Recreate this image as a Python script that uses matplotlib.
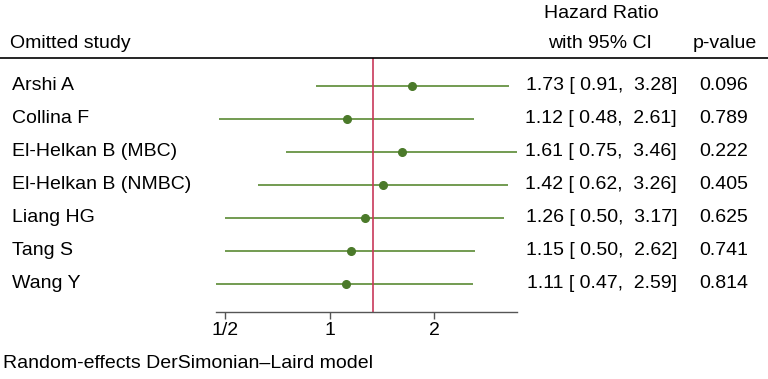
import numpy as np
import matplotlib.pyplot as plt
from matplotlib.lines import Line2D
from matplotlib.ticker import FixedLocator, NullLocator

plt.rcParams['font.family'] = ['Liberation Sans', 'DejaVu Sans']

# data
studies = ['Arshi A', 'Collina F', 'El-Helkan B (MBC)', 'El-Helkan B (NMBC)',
           'Liang HG', 'Tang S', 'Wang Y']
hr = [1.73, 1.12, 1.61, 1.42, 1.26, 1.15, 1.11]
lo = [0.91, 0.48, 0.75, 0.62, 0.50, 0.50, 0.47]
hi = [3.28, 2.61, 3.46, 3.26, 3.17, 2.62, 2.59]
pvals = ['0.096', '0.789', '0.222', '0.405', '0.625', '0.741', '0.814']
overall = 1.335
tick_vals = [0.5, 1, 2]
tick_labels = ['1/2', '1', '2']

W, H = 768, 379
fig = plt.figure(figsize=(W / 100, H / 100), dpi=100)

def fx(px):
    return px / W

def fy(py):
    return 1 - py / H

# plot area: x 216..517 px, y 58..312 px
ax = fig.add_axes([fx(216), fy(312), fx(517) - fx(216), fy(58) - fy(312)])
ax.set_xscale('log')
ax.set_xlim(min(lo), max(hi))
ax.set_ylim(7.85, 0.16)

green = '#5a8a34'
dotc = '#4b7a2a'
red = '#c8385a'

ys = np.arange(1, len(studies) + 1)
ax.hlines(ys, lo, hi, color=green, lw=1.2)
ax.plot(hr, ys, 'o', color=dotc, ms=5.5, zorder=3)
ax.axvline(overall, color=red, lw=1.2, zorder=2)

for s in ['top', 'right', 'left']:
    ax.spines[s].set_visible(False)
ax.spines['bottom'].set_color('#555555')
ax.spines['bottom'].set_linewidth(1.0)
ax.yaxis.set_major_locator(NullLocator())
ax.xaxis.set_major_locator(FixedLocator(tick_vals))
ax.xaxis.set_minor_locator(NullLocator())
ax.set_xticklabels(tick_labels)
ax.tick_params(axis='x', length=5, width=1, color='#555555', labelsize=14, pad=2)

# header line
fig.add_artist(Line2D([0, 1], [fy(58), fy(58)], color='black', lw=1.2))

# headers
fs = 14
fig.text(fx(10), fy(43), 'Omitted study', fontsize=fs, va='center', ha='left')
fig.text(fx(601), fy(14), 'Hazard Ratio', fontsize=fs, va='center', ha='center')
fig.text(fx(600), fy(43), 'with 95% CI', fontsize=fs, va='center', ha='center')
fig.text(fx(725), fy(43), 'p-value', fontsize=fs, va='center', ha='center')

# rows
for i, name in enumerate(studies):
    y = ax.transData.transform((1, ys[i]))[1]
    yf = fig.transFigure.inverted().transform((0, y))[1]
    fig.text(fx(12), yf, name, fontsize=fs, va='center', ha='left')
    txt = f'{hr[i]:.2f} [ {lo[i]:.2f},  {hi[i]:.2f}]'
    fig.text(fx(677), yf, txt, fontsize=fs, va='center', ha='right')
    fig.text(fx(748), yf, pvals[i], fontsize=fs, va='center', ha='right')

fig.text(fx(3), fy(363), 'Random-effects DerSimonian\u2013Laird model',
         fontsize=fs, va='center', ha='left')

fig.savefig('out.png', dpi=100)
